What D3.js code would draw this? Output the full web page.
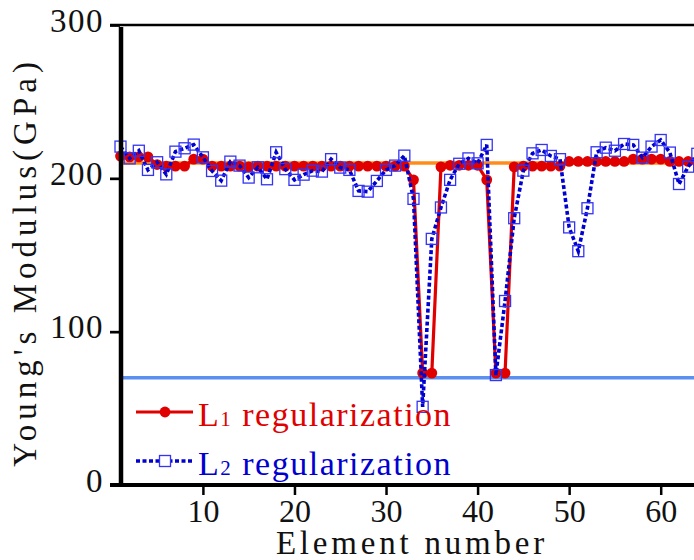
<!DOCTYPE html>
<html><head><meta charset="utf-8">
<script src="https://cdn.jsdelivr.net/npm/d3@7"></script>
<style>html,body{margin:0;padding:0;background:#fff;}svg{display:block;}</style>
</head><body>
<script>
const elements = [1,2,3,4,5,6,7,8,9,10,11,12,13,14,15,16,17,18,19,20,21,22,23,24,25,26,27,28,29,30,31,32,33,34,35,36,37,38,39,40,41,42,43,44,45,46,47,48,49,50,51,52,53,54,55,56,57,58,59,60,61,62,63,64];
const l1Values = [214.5,214,214,214,209,208,208,208,212.5,212.5,208,208,208,208,207.5,208,208,208,208,208,208,208,208,208,208,208,208,208,208,208,208,208,199,73,73,207.5,208.5,208.5,208.5,208.5,199,73,73,207.5,208,208,208,208,208,211,211,211,211,211,211,211,212.5,212.5,212.5,212.5,211,211,211,211];
const l2Values = [220.7,213,218,205.5,210.5,202.6,217.4,219.6,222,213.7,204.8,198.5,210.9,208.3,200.5,207.2,199.4,217,206,199,202.4,205,204.4,212.5,207,205.5,191.8,191.3,198.3,205.5,208.3,214.8,186.6,51,160.5,181,199,209.5,213,209.8,221.8,71.7,120,174,205,216.3,218.5,214.6,212.5,168,152.5,180.5,217,220,218,222.4,221.8,213.5,220.7,225,216.8,196.3,207.6,216];
const refHealthy = 210;
const refDamaged = 70;
const yTicks = [0,100,200,300];
const xTicks = [10,20,30,40,50,60];
const seriesLabels = [["L","1"," regularization"],["L","2"," regularization"]];
const xTitle = "Element number";
const yTitle = "Young's Modulus(GPa)";

const W = 694, H = 560;
const red = "#e00000", blue = "#0000d0", sq = "#3434f4";
const font = "'Liberation Serif','Times New Roman',serif";

const svg = d3.select("body").append("svg").attr("width", W).attr("height", H);
const x = d3.scaleLinear().domain([1,64]).range([120.5, 120.5 + 63*9.156]);
const y = d3.scaleLinear().domain([0,300]).range([485,25]);

// reference lines
svg.append("line").attr("x1",120).attr("x2",W).attr("y1",y(refHealthy)).attr("y2",y(refHealthy))
  .attr("stroke","#ff8c1a").attr("stroke-width",3.5);
svg.append("line").attr("x1",120).attr("x2",W).attr("y1",y(refDamaged)).attr("y2",y(refDamaged))
  .attr("stroke","#5b8ff0").attr("stroke-width",3.5);

const l1 = elements.map((e,i)=>[e,l1Values[i]]);
const l2 = elements.map((e,i)=>[e,l2Values[i]]);
const line = d3.line().x(d=>x(d[0])).y(d=>y(d[1]));

svg.append("path").attr("d", line(l1)).attr("fill","none").attr("stroke",red).attr("stroke-width",3.2);
svg.append("g").selectAll("circle").data(l1).join("circle")
  .attr("cx",d=>x(d[0])).attr("cy",d=>y(d[1])).attr("r",5.4).attr("fill",red);

svg.append("path").attr("d", line(l2)).attr("fill","none").attr("stroke",blue).attr("stroke-width",3.6)
  .attr("stroke-dasharray","4,2.5");
svg.append("g").selectAll("rect").data(l2).join("rect")
  .attr("x",d=>x(d[0])-5.5).attr("y",d=>y(d[1])-5.5).attr("width",11).attr("height",11)
  .attr("fill","none").attr("stroke",sq).attr("stroke-width",1.3);

// axes
const gy = svg.append("g").attr("transform","translate(120,0)")
  .call(d3.axisLeft(y).tickValues(yTicks).tickSize(10).tickFormat(d3.format("d")));
gy.select(".domain").remove();
gy.selectAll(".tick line").attr("stroke","#000").attr("stroke-width",2.7);
gy.selectAll(".tick text").attr("x",-16).attr("dy",null).attr("y",6)
  .attr("font-family",font).attr("font-size",33).attr("letter-spacing",1.5).attr("fill","#111");

const gx = svg.append("g").attr("transform","translate(0,485)")
  .call(d3.axisBottom(x).tickValues(xTicks).tickSize(10).tickFormat(d3.format("d")));
gx.select(".domain").remove();
gx.selectAll(".tick line").attr("stroke","#000").attr("stroke-width",2.5);
gx.selectAll(".tick text").attr("dy",null).attr("y",37)
  .attr("font-family",font).attr("font-size",32).attr("fill","#111");

// frame lines
svg.append("line").attr("x1",110).attr("x2",W).attr("y1",y(300)).attr("y2",y(300)).attr("stroke","#000").attr("stroke-width",2.7);
svg.append("line").attr("x1",121).attr("x2",121).attr("y1",27).attr("y2",487).attr("stroke","#000").attr("stroke-width",4.5);
svg.append("line").attr("x1",110).attr("x2",W).attr("y1",485).attr("y2",485).attr("stroke","#000").attr("stroke-width",4);

// titles
svg.append("text").attr("x",412).attr("y",554).attr("text-anchor","middle")
  .attr("font-family",font).attr("font-size",33).attr("letter-spacing",3.8).attr("fill","#111").text(xTitle);
svg.append("text").attr("transform","translate(36,262) rotate(-90)").attr("text-anchor","middle")
  .attr("font-family",font).attr("font-size",33).attr("letter-spacing",5).attr("fill","#111").text(yTitle);

// legend
const legY = [412, 461], legBase = [426, 475], legCol = [red, blue];
seriesLabels.forEach((lab,i)=>{
  const g = svg.append("g");
  const ln = g.append("line").attr("x1",136).attr("x2",193).attr("y1",legY[i]).attr("y2",legY[i])
    .attr("stroke",i===0?red:blue).attr("stroke-width",i===0?3.2:3.6);
  if(i===1){ ln.attr("stroke-dasharray","4,2.5"); }
  if(i===0){
    g.append("circle").attr("cx",165).attr("cy",legY[i]).attr("r",5.4).attr("fill",red);
  } else {
    g.append("rect").attr("x",159.5).attr("y",legY[i]-5.5).attr("width",11).attr("height",11)
      .attr("fill","#fff").attr("stroke",sq).attr("stroke-width",1.3);
  }
  const t = g.append("text").attr("x",198).attr("y",legBase[i]).attr("font-family",font)
    .attr("font-size",34).attr("letter-spacing",1.5).attr("fill",legCol[i]);
  t.append("tspan").text(lab[0]);
  t.append("tspan").attr("font-size",21).text(lab[1]);
  t.append("tspan").text(lab[2]);
});
</script>
</body></html>
